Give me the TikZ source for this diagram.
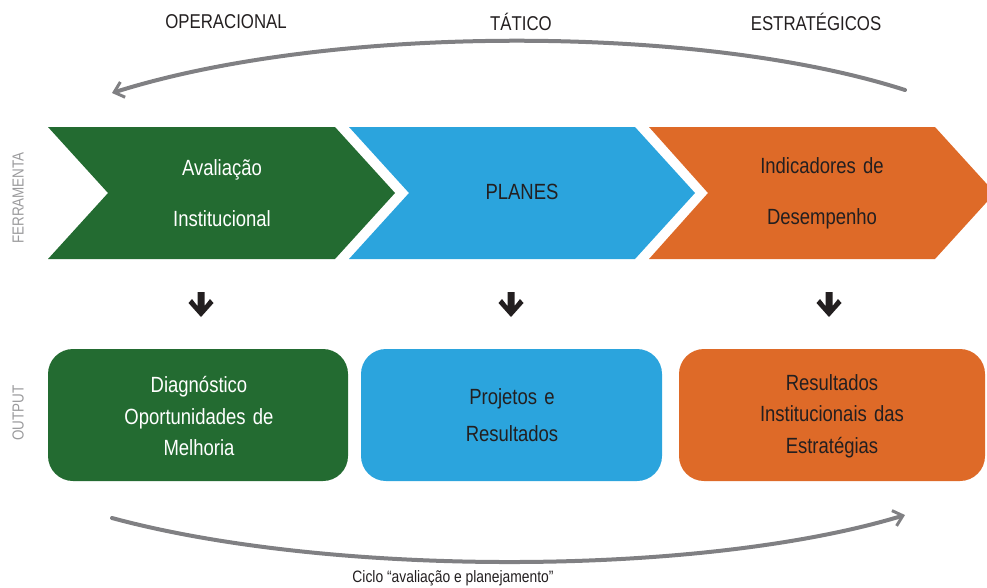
\documentclass[tikz,border=0pt]{standalone}
\usepackage{fontspec}
\setmainfont{Liberation Sans}[FakeStretch=0.84]
\usetikzlibrary{arrows.meta}
\definecolor{cgreen}{HTML}{236B31}
\definecolor{cblue}{HTML}{2BA4DD}
\definecolor{corange}{HTML}{DE6A28}
\definecolor{ctext}{HTML}{231F20}
\definecolor{carc}{HTML}{808083}
\definecolor{cside}{HTML}{9A9A9C}
\tikzset{
  chev/.style={text width=220pt, align=center, font=\fontsize{22}{51}\selectfont},
  outbox/.style={rounded corners=25pt},
  boxtext/.style={text width=280pt, align=center, font=\fontsize{22}{31.5}\selectfont},
  header/.style={font=\fontsize{20}{24}\selectfont, text=ctext},
  sidelabel/.style={font=\fontsize{16}{18}\selectfont, text=cside, rotate=90},
  cycle arc/.style={draw=carc, line width=4pt, line cap=round},
  downarrow/.style={fill=ctext}
}
\begin{document}
\begin{tikzpicture}[x=1pt,y=-1pt]
\useasboundingbox (0,0) rectangle (987,587);
\clip (0,0) rectangle (987,587);

% headers
\node[header] (hop) at (226,22) {OPERACIONAL};
\node[header] (hta) at (521,22) {TÁTICO};
\node[header] (hes) at (816,22) {ESTRATÉGICOS};

% top arc
\draw[cycle arc, -{Straight Barb[length=9pt,width=16pt,line width=3pt]}]
  (905,90) .. controls (700,24) and (330,24) .. (112,93);

% chevrons
\fill[cgreen] (48,127) -- (335,127) -- (395,193) -- (335,259) -- (48,259) -- (108,193) -- cycle;
\fill[cblue] (349,127) -- (635,127) -- (695,193) -- (635,259) -- (349,259) -- (409,193) -- cycle;
\fill[corange] (649,127) -- (935,127) -- (995,193) -- (935,259) -- (649,259) -- (708,193) -- cycle;

\node[chev, text=white] (c1) at (222,193) {Avaliação\\Institucional};
\node[chev, text=ctext] (c2) at (522,192) {PLANES};
\node[chev, text=ctext] (c3) at (822,193) {Indicadores de\\Desempenho};

% side labels
\node[sidelabel] (sf) at (18,198) {FERRAMENTA};
\node[sidelabel] (so) at (18,413) {OUTPUT};

% down arrows
\foreach \cx/\nm in {201/a1,511/a2,829/a3}{
  \fill[downarrow] (\cx-3.5,292) -- (\cx+3.5,292) -- (\cx+3.5,306) -- (\cx+9,299) -- (\cx+12.5,303)
    -- (\cx,317) -- (\cx-12.5,303) -- (\cx-9,299) -- (\cx-3.5,306) -- cycle;
  \coordinate (\nm) at (\cx,304);
}

% output boxes
\fill[cgreen, outbox] (48,349) rectangle (348,481);
\fill[cblue, outbox] (361,349) rectangle (662,481);
\fill[corange, outbox] (679,349) rectangle (985,481);

\node[boxtext, text=white] (b1) at (199,416) {Diagnóstico\\Oportunidades de\\Melhoria};
\node[boxtext, text=ctext, font=\fontsize{22}{37}\selectfont] (b2) at (512,415) {Projetos e\\Resultados};
\node[boxtext, text=ctext] (b3) at (832,416) {Resultados\\Institucionais das\\Estratégias};

% bottom arc
\draw[cycle arc, -{Straight Barb[length=9pt,width=16pt,line width=3pt]}]
  (112,518) .. controls (330,577) and (700,577) .. (905,515);

\node[font=\fontsize{16.5}{18}\selectfont, text=ctext] (lbl) at (453,578) {Ciclo “avaliação e planejamento”};
\end{tikzpicture}
\end{document}
